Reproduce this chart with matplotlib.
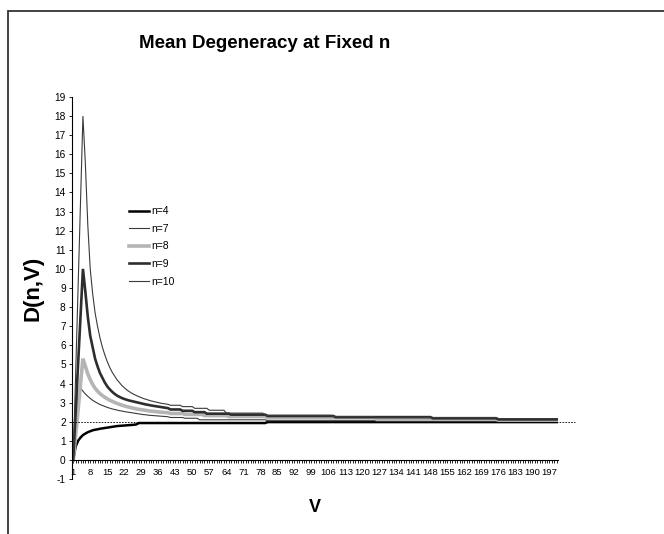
import numpy as np
import matplotlib
matplotlib.use("Agg")
import matplotlib.pyplot as plt
from matplotlib import font_manager
from matplotlib.patches import Rectangle

# V runs over categories 1..200; each series = explicit early values + (value, run length) steps
n_labels = ["n=4", "n=7", "n=8", "n=9", "n=10"]

head_n4 = [0, 0.7, 1.0, 1.17, 1.3, 1.38, 1.45, 1.5, 1.55, 1.58, 1.6, 1.63, 1.65, 1.67,
           1.69, 1.71, 1.73, 1.75, 1.77, 1.78, 1.79, 1.8, 1.81, 1.82, 1.83, 1.84, 1.86]
steps_n4 = [(1.93, 53), (1.98, 120)]

head_n7 = [0, 1.9, 3.4, 3.75, 3.6, 3.45, 3.33, 3.22, 3.12, 3.04, 2.97, 2.9, 2.85, 2.8,
           2.75, 2.71, 2.67, 2.64, 2.61, 2.58, 2.56, 2.53, 2.51, 2.49, 2.47, 2.45, 2.43,
           2.41, 2.39, 2.37, 2.36, 2.34, 2.33, 2.32, 2.31, 2.3, 2.29, 2.28, 2.27, 2.26]
steps_n7 = [(2.22, 6), (2.18, 6), (2.1, 28), (2.05, 120)]

head_n8 = [0, 1.3, 2.6, 4.0, 5.3, 4.9, 4.5, 4.2, 3.95, 3.75, 3.6, 3.47, 3.37, 3.28,
           3.2, 3.13, 3.07, 3.01, 2.96, 2.91, 2.87, 2.83, 2.79, 2.76, 2.73, 2.7, 2.67,
           2.65, 2.63, 2.61, 2.59, 2.57, 2.55, 2.54, 2.53, 2.51, 2.5, 2.49, 2.48, 2.47]
steps_n8 = [(2.43, 6), (2.38, 8), (2.32, 10), (2.27, 16), (2.2, 45), (2.12, 50), (2.08, 25)]

head_n9 = [0, 2.5, 5, 7.5, 10, 8.8, 7.5, 6.5, 5.9, 5.3, 4.9, 4.55, 4.3, 4.05,
           3.85, 3.7, 3.57, 3.46, 3.37, 3.3, 3.24, 3.19, 3.15, 3.11, 3.08, 3.05, 3.02,
           2.99, 2.96, 2.93, 2.9, 2.88, 2.85, 2.83, 2.81, 2.79, 2.77, 2.75, 2.73, 2.71]
steps_n9 = [(2.64, 5), (2.57, 5), (2.5, 5), (2.42, 10), (2.37, 15), (2.3, 28),
            (2.24, 40), (2.18, 27), (2.12, 25)]

head_n10 = [0, 4.5, 9, 13.5, 18, 15.5, 12.3, 10, 8.7, 7.7, 7.0, 6.4, 5.9, 5.5,
            5.15, 4.85, 4.6, 4.4, 4.2, 4.05, 3.9, 3.78, 3.67, 3.58, 3.5, 3.43, 3.37,
            3.31, 3.26, 3.21, 3.17, 3.13, 3.09, 3.06, 3.03, 3.0, 2.97, 2.95, 2.93, 2.91]
steps_n10 = [(2.86, 5), (2.79, 5), (2.7, 6), (2.6, 7), (2.45, 16),
             (2.33, 28), (2.27, 18), (2.22, 50), (2.16, 25)]

ref_level = 2


def build(head, steps):
    vals = [v for v, c in steps]
    counts = [c for v, c in steps]
    return np.concatenate([np.array(head, float), np.repeat(vals, counts)])


series = [build(head_n4, steps_n4), build(head_n7, steps_n7), build(head_n8, steps_n8),
          build(head_n9, steps_n9), build(head_n10, steps_n10)]
V = np.arange(1, len(series[0]) + 1)

styles = [dict(color="black", lw=1.8),
          dict(color="#3a3a3a", lw=0.8),
          dict(color="#b4b4b4", lw=2.6),
          dict(color="#2e2e2e", lw=1.9),
          dict(color="#3a3a3a", lw=0.8)]

try:
    font_manager.findfont("Liberation Sans Narrow", fallback_to_default=False)
    narrow = "Liberation Sans Narrow"
except Exception:
    narrow = "Liberation Sans"
plt.rcParams["font.family"] = ["Liberation Sans", "DejaVu Sans"]
plt.rcParams["axes.unicode_minus"] = False

fig = plt.figure(figsize=(6.64, 5.34), dpi=100)
ax = fig.add_axes([72 / 664, 55 / 534, 486 / 664, 382 / 534])

for y, lab, st in zip(series, n_labels, styles):
    ax.plot(V, y, label=lab, solid_joinstyle="miter", **st)

ax.plot([0.5, 207.5], [ref_level, ref_level], color="black", lw=0.6,
        ls=(0, (2, 1.5)), clip_on=False)

ax.set_xlim(0.5, len(V) + 0.5)
ax.set_ylim(-1, 19)
ax.spines["top"].set_visible(False)
ax.spines["right"].set_visible(False)
ax.spines["bottom"].set_position(("data", 0))
ax.spines["left"].set_linewidth(0.8)
ax.spines["bottom"].set_linewidth(0.8)

ax.set_yticks(np.arange(-1, 20, 1))
ax.set_xticks(V[::7])
ax.set_xticks(V, minor=True)
ax.tick_params(axis="both", which="both", direction="out", length=2.5, width=0.6,
               labelsize=7.3, pad=2)
ax.tick_params(axis="x", labelsize=6.8, pad=3)
for lbl in ax.get_xticklabels() + ax.get_yticklabels():
    lbl.set_fontfamily(narrow)

ax.set_ylabel("D(n,V)", fontsize=16, fontweight="bold")
ax.yaxis.set_label_coords(-0.058, 0.5)
fig.text(315 / 664, 1 - 508 / 534, "V", fontsize=13, fontweight="bold",
         ha="center", va="center")
fig.text(265 / 664, 1 - 44 / 534, "Mean Degeneracy at Fixed n", fontsize=13.5,
         fontweight="bold", ha="center", va="center", family=narrow)

leg = ax.legend(loc="upper left", bbox_to_anchor=(53 / 486, 1 - 105 / 382), frameon=False,
                fontsize=7.5, handlelength=1.9, handletextpad=0.2, labelspacing=0.73,
                borderaxespad=0)
for t in leg.get_texts():
    t.set_fontfamily(narrow)

fig.patches.append(Rectangle((8 / 664, -0.05), 1.2, 1 - 11 / 534 + 0.05,
                             transform=fig.transFigure, fill=False, lw=1.3,
                             edgecolor="#333333"))

fig.savefig("out.png", dpi=100)
